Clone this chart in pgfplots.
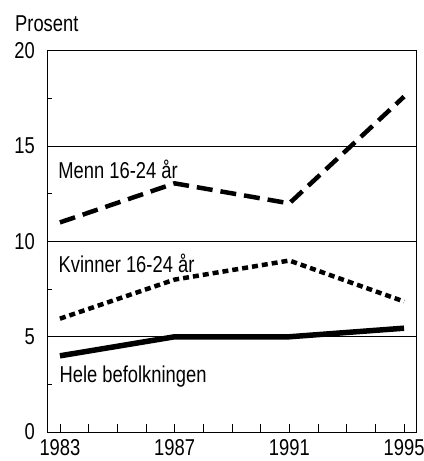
\documentclass[border=0pt]{standalone}
\usepackage{fontspec}
\setmainfont[FakeStretch=0.8]{Liberation Sans}
\usepackage{pgfplots}
\pgfplotsset{compat=1.18}

\begin{document}
\begin{tikzpicture}[font=\fontsize{23}{25}\selectfont]
\path[use as bounding box] (-48pt,-29pt) rectangle (376pt,433pt);
\begin{axis}[
  at={(0,0)}, anchor=south west,
  scale only axis,
  width=369pt, height=382pt,
  xmin=1982.58, xmax=1995.42,
  ymin=0, ymax=20,
  xtick={1983,1987,1991,1995},
  minor xtick={1984,1985,1986,1988,1989,1990,1992,1993,1994},
  ytick={0,5,10,15,20},
  extra y ticks={2.5,7.5,12.5,17.5},
  extra y tick labels={},
  extra y tick style={major tick length=4pt, grid=none},
  xtick pos=bottom, ytick pos=left,
  tick align=inside,
  major tick length=8pt, minor tick length=8pt,
  ymajorgrids,
  grid style={black, line width=0.8pt},
  axis line style={line width=1pt},
  tick style={black, line width=0.8pt},
  /pgf/number format/assume math mode=true,
  xticklabel style={/pgf/number format/1000 sep=, anchor=north, inner sep=0pt, yshift=-7pt},
  yticklabel style={anchor=east, inner sep=0pt, xshift=-13pt},
  clip=false,
]
% Menn 16-24 år
\addplot[black, line width=4.5pt, dash pattern=on 16pt off 8pt] coordinates {
  (1983,11.0) (1987,13.05) (1991,12.0) (1995,17.6)
};
% Kvinner 16-24 år
\addplot[black, line width=4.5pt, dash pattern=on 6pt off 4pt] coordinates {
  (1983,5.95) (1987,8.0) (1991,9.0) (1995,6.85)
};
% Hele befolkningen
\addplot[black, line width=5.5pt] coordinates {
  (1983,4.0) (1987,5.0) (1991,5.0) (1995,5.45)
};
\node[anchor=base west, inner sep=0pt] at (axis cs:1982.94,13.33) {Menn 16-24 år};
\node[anchor=base west, inner sep=0pt] at (axis cs:1982.95,8.36) {Kvinner 16-24 år};
\node[anchor=base west, inner sep=0pt] at (axis cs:1982.98,2.6) {Hele befolkningen};
\end{axis}
\node[anchor=base west, inner sep=0pt] at (-33pt,401pt) {Prosent};
\end{tikzpicture}
\end{document}
